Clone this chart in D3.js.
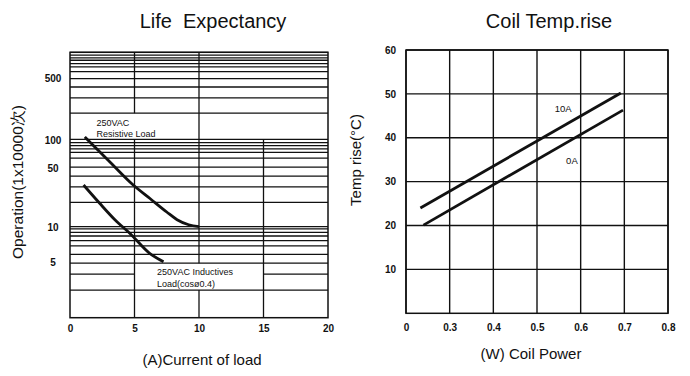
<!DOCTYPE html>
<html>
<head>
<meta charset="utf-8">
<script src="https://cdn.jsdelivr.net/npm/d3@7"></script>
<style>
  body { margin: 0; background: #fff; }
  svg { font-family: "Liberation Sans", Arial, sans-serif; }
</style>
</head>
<body>
<div id="chart"></div>
<script>
// ---- Life Expectancy (left) ----
const lifeXTicks = [0, 5, 10, 15, 20];
const lifeYLabels = ["500", "100", "50", "10", "5"];
const lifeYLabelAt = [500, 97, 47, 9.7, 3.9]; // where the labels sit in the drawing
const lifeHGrid = [1000, 930, 865, 810, 740, 680, 600, 500, 400, 300, 200, 100,
                   92, 85, 78, 71, 61, 48, 38, 28.5, 19, 10,
                   9.4, 8.6, 7.8, 6.9, 6, 4.8, 3.8, 1.87];
const lifeHGridPart = [{v: 2.85, a0: 0, a1: 5}, {v: 2.85, a0: 15, a1: 20}];
const lifeVGrid = [
  {a: 5, from: 1000, to: 200},
  {a: 10, from: 1000, to: 3.8},
  {a: 10, from: 1.87, to: 0.9},
  {a: 5, from: 100, to: 0.9},
  {a: 15, from: 100, to: 0.9}
];
const resistiveA   = [1.15, 3, 4.9, 6.2, 7.5, 8.3, 9.2, 10];
const resistiveOps = [107, 57, 30, 21, 14.7, 12, 10.5, 10];
const inductiveA   = [1.05, 2.3, 3.5, 4.65, 6.2, 7.25];
const inductiveOps = [30, 18.5, 11.9, 8.35, 4.9, 3.95];

// ---- Coil Temp.rise (right) ----
const coilXTicks = [0.2, 0.3, 0.4, 0.5, 0.6, 0.7, 0.8];
const coilXLabels = ["0", "0.3", "0.4", "0.5", "0.6", "0.7", "0.8"];
const coilYTicks = [10, 20, 30, 40, 50, 60];
const coil10A = [{w: 0.233, t: 24}, {w: 0.692, t: 50.2}];
const coil0A  = [{w: 0.24, t: 20.1}, {w: 0.697, t: 46.3}];

const svg = d3.select("#chart").append("svg")
  .attr("width", 690).attr("height", 376);

const ink = "#111";

// ===== left chart =====
const xL = d3.scaleLinear().domain([0, 20]).range([70, 328]);
const yL = d3.scaleLog().domain([0.9, 1000]).range([317.7, 52.3]);

const gL = svg.append("g");

gL.selectAll(".hg").data(lifeHGrid).enter().append("line")
  .attr("x1", xL(0)).attr("x2", xL(20))
  .attr("y1", d => yL(d)).attr("y2", d => yL(d))
  .attr("stroke", ink).attr("stroke-width", 1.3);

gL.selectAll(".hp").data(lifeHGridPart).enter().append("line")
  .attr("x1", d => xL(d.a0)).attr("x2", d => xL(d.a1))
  .attr("y1", d => yL(d.v)).attr("y2", d => yL(d.v))
  .attr("stroke", ink).attr("stroke-width", 1.3);

gL.selectAll(".vg").data(lifeVGrid).enter().append("line")
  .attr("x1", d => xL(d.a)).attr("x2", d => xL(d.a))
  .attr("y1", d => yL(d.from)).attr("y2", d => yL(d.to))
  .attr("stroke", ink).attr("stroke-width", 1.3);

gL.append("rect")
  .attr("x", xL(0)).attr("y", yL(1000))
  .attr("width", xL(20) - xL(0)).attr("height", yL(0.9) - yL(1000))
  .attr("fill", "none").attr("stroke", ink).attr("stroke-width", 1.5);

const lineL = d3.line()
  .x(d => xL(d[0])).y(d => yL(d[1]))
  .curve(d3.curveMonotoneX);

gL.append("path")
  .datum(d3.zip(resistiveA, resistiveOps))
  .attr("d", lineL).attr("fill", "none")
  .attr("stroke", ink).attr("stroke-width", 2.8);

gL.append("path")
  .datum(d3.zip(inductiveA, inductiveOps))
  .attr("d", lineL).attr("fill", "none")
  .attr("stroke", ink).attr("stroke-width", 2.8);

// curve labels
const resLbl = gL.append("text")
  .attr("x", xL(2.05)).attr("y", yL(142))
  .attr("font-size", 9).attr("fill", ink);
resLbl.append("tspan").text("250VAC");
resLbl.append("tspan").attr("x", xL(2.05)).attr("dy", 11).text("Resistive Load");

const indLbl = gL.append("text")
  .attr("x", xL(6.75)).attr("y", yL(2.75))
  .attr("font-size", 9).attr("fill", ink);
indLbl.append("tspan").text("250VAC Inductives");
indLbl.append("tspan").attr("x", xL(6.75)).attr("dy", 12).text("Load(cosø0.4)");

// axes (labels only)
gL.append("g")
  .attr("transform", `translate(0,${yL(0.9)})`)
  .call(d3.axisBottom(xL).tickValues(lifeXTicks).tickSize(0).tickPadding(7))
  .call(g => g.select(".domain").remove())
  .selectAll("text")
  .attr("font-size", 10).attr("font-weight", "bold").attr("fill", ink);

gL.append("g")
  .attr("transform", `translate(${xL(0)},0)`)
  .call(d3.axisLeft(yL).tickValues(lifeYLabelAt).tickSize(0)
    .tickFormat((d, i) => lifeYLabels[i]))
  .call(g => g.select(".domain").remove())
  .selectAll("text")
  .attr("x", -17).attr("text-anchor", "middle")
  .attr("font-size", 10).attr("font-weight", "bold").attr("fill", ink);

svg.append("text")
  .attr("x", 213).attr("y", 28)
  .attr("text-anchor", "middle").attr("font-size", 20).attr("fill", ink)
  .attr("xml:space", "preserve").style("white-space", "pre")
  .text("Life  Expectancy");

svg.append("text")
  .attr("x", 202).attr("y", 365)
  .attr("text-anchor", "middle").attr("font-size", 15).attr("fill", ink)
  .text("(A)Current of load");

svg.append("text")
  .attr("transform", "translate(23,182) rotate(-90)")
  .attr("text-anchor", "middle").attr("font-size", 15.5).attr("fill", ink)
  .text("Operation(1x10000次)");

// ===== right chart =====
const xR = d3.scaleLinear().domain([0.2, 0.8]).range([406, 668]);
const yR = d3.scaleLinear().domain([0, 60]).range([313.3, 50]);

const gR = svg.append("g");

gR.selectAll(".vr").data(coilXTicks).enter().append("line")
  .attr("x1", d => xR(d)).attr("x2", d => xR(d))
  .attr("y1", yR(0)).attr("y2", yR(60))
  .attr("stroke", ink).attr("stroke-width", 1.4);

gR.selectAll(".hr").data(coilYTicks).enter().append("line")
  .attr("x1", xR(0.2)).attr("x2", xR(0.8))
  .attr("y1", d => yR(d)).attr("y2", d => yR(d))
  .attr("stroke", ink).attr("stroke-width", 1.4);

gR.append("rect")
  .attr("x", xR(0.2)).attr("y", yR(60))
  .attr("width", xR(0.8) - xR(0.2)).attr("height", yR(0) - yR(60))
  .attr("fill", "none").attr("stroke", ink).attr("stroke-width", 1.5);

const lineR = d3.line().x(d => xR(d.w)).y(d => yR(d.t));

[coil10A, coil0A].forEach(s => {
  gR.append("path").datum(s).attr("d", lineR)
    .attr("fill", "none").attr("stroke", ink).attr("stroke-width", 2.8);
});

gR.append("text").attr("x", xR(0.56)).attr("y", yR(45.9))
  .attr("text-anchor", "middle").attr("font-size", 9.5).attr("fill", ink)
  .text("10A");
gR.append("text").attr("x", xR(0.58)).attr("y", yR(34))
  .attr("text-anchor", "middle").attr("font-size", 9.5).attr("fill", ink)
  .text("0A");

gR.append("g")
  .attr("transform", `translate(0,${yR(0)})`)
  .call(d3.axisBottom(xR).tickValues(coilXTicks).tickSize(0).tickPadding(11)
    .tickFormat((d, i) => coilXLabels[i]))
  .call(g => g.select(".domain").remove())
  .selectAll("text")
  .attr("font-size", 10).attr("font-weight", "bold").attr("fill", ink);

gR.append("g")
  .attr("transform", `translate(${xR(0.2)},0)`)
  .call(d3.axisLeft(yR).tickValues(coilYTicks).tickSize(0).tickPadding(10))
  .call(g => g.select(".domain").remove())
  .selectAll("text")
  .attr("font-size", 10).attr("font-weight", "bold").attr("fill", ink);

svg.append("text")
  .attr("x", 549).attr("y", 28)
  .attr("text-anchor", "middle").attr("font-size", 20).attr("fill", ink)
  .text("Coil Temp.rise");

svg.append("text")
  .attr("x", 531).attr("y", 359)
  .attr("text-anchor", "middle").attr("font-size", 15).attr("fill", ink)
  .text("(W) Coil Power");

svg.append("text")
  .attr("transform", "translate(361,160) rotate(-90)")
  .attr("text-anchor", "middle").attr("font-size", 15).attr("fill", ink)
  .text("Temp rise(°C)");
</script>
</body>
</html>
